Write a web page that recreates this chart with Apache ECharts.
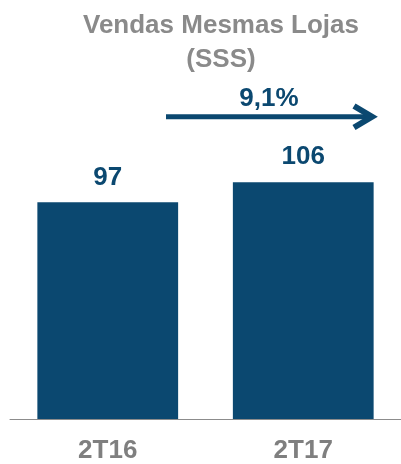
<!DOCTYPE html>
<html>
<head>
<meta charset="utf-8">
<script src="https://cdn.jsdelivr.net/npm/echarts@6/dist/echarts.min.js"></script>
<style>
html,body{margin:0;padding:0;background:#fff;}
#c{width:401px;height:464px;}
</style>
</head>
<body>
<div id="c"></div>
<script>
const categories = ['2T16', '2T17'];
const values = [97, 106];
const growthLabel = '9,1%';
const titleText = 'Vendas Mesmas Lojas\n(SSS)';

const FONT = '"Liberation Sans", Arial, sans-serif';
const BLUE = '#0b4870';

const chart = echarts.init(document.getElementById('c'));
chart.setOption({
  animation: false,
  title: {
    text: titleText,
    left: 216,
    top: 4,
    textAlign: 'center',
    textStyle: {
      fontFamily: FONT, fontSize: 26, fontWeight: 'bold', color: '#8a8a8a', lineHeight: 34
    }
  },
  grid: { left: 10, right: -5, top: 151, bottom: 42, containLabel: false },
  xAxis: {
    type: 'category',
    data: categories,
    axisLine: { lineStyle: { color: '#8c8c8c', width: 1 } },
    axisTick: { show: false },
    axisLabel: { fontFamily: FONT, fontSize: 26, fontWeight: 'bold', color: '#7f7f7f', margin: 19 }
  },
  yAxis: {
    type: 'value', min: 0, max: 120,
    show: false, splitLine: { show: false }
  },
  series: [{
    type: 'bar',
    data: values,
    barWidth: '72%',
    itemStyle: { color: BLUE },
    label: {
      show: true, position: 'top', distance: 12,
      fontFamily: FONT, fontSize: 26, fontWeight: 'bold', color: BLUE
    }
  }],
  graphic: [
    { type: 'line', shape: { x1: 166, y1: 116.7, x2: 370, y2: 116.7 },
      style: { stroke: BLUE, lineWidth: 5 } },
    { type: 'polyline', shape: { points: [[354, 106], [372, 116.7], [354, 127.5]] },
      style: { stroke: BLUE, lineWidth: 6, fill: null, lineJoin: 'miter' } },
    { type: 'text', x: 269, y: 99, style: {
      text: growthLabel, fontFamily: FONT, fontSize: 26, fontWeight: 'bold', fill: BLUE,
      textAlign: 'center', textVerticalAlign: 'middle' } }
  ]
});
</script>
</body>
</html>
